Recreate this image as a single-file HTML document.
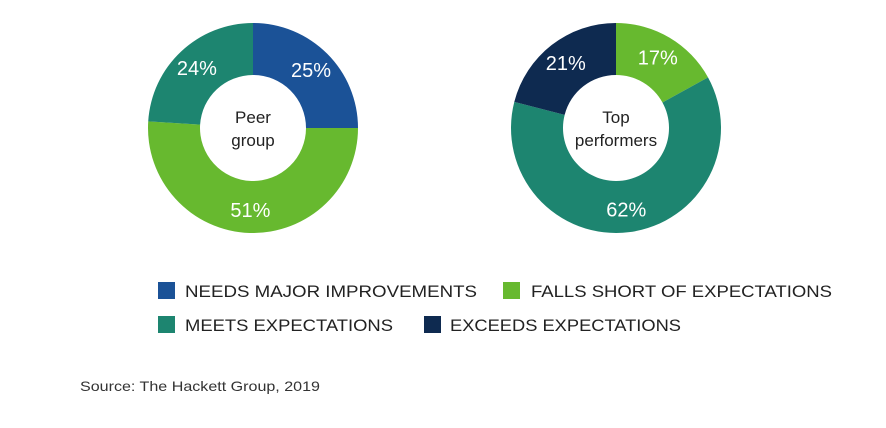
<!DOCTYPE html>
<html><head><meta charset="utf-8"><style>
html,body{margin:0;padding:0;background:#fff;}
svg{display:block;font-family:"Liberation Sans",sans-serif;}
</style></head><body>
<svg id="chart" width="886" height="428" viewBox="0 0 886 428">
<g id="donuts"></g>
<g>
 <rect x="158" y="282" width="17" height="17" fill="#1b5297"/>
 <text x="185" y="297" font-size="17" fill="#222" textLength="292" lengthAdjust="spacingAndGlyphs">NEEDS MAJOR IMPROVEMENTS</text>
 <rect x="503" y="282" width="17" height="17" fill="#67b92f"/>
 <text x="531" y="297" font-size="17" fill="#222" textLength="301" lengthAdjust="spacingAndGlyphs">FALLS SHORT OF EXPECTATIONS</text>
 <rect x="158" y="316" width="17" height="17" fill="#1d8570"/>
 <text x="185" y="331" font-size="17" fill="#222" textLength="208" lengthAdjust="spacingAndGlyphs">MEETS EXPECTATIONS</text>
 <rect x="424" y="316" width="17" height="17" fill="#0e2a50"/>
 <text x="450" y="331" font-size="17" fill="#222" textLength="231" lengthAdjust="spacingAndGlyphs">EXCEEDS EXPECTATIONS</text>
</g>
<text x="80" y="391" font-size="14" fill="#333" textLength="240" lengthAdjust="spacingAndGlyphs">Source: The Hackett Group, 2019</text>
</svg>
<script>
const peerValues = [25, 51, 24];
const peerColors = ["#1b5297", "#67b92f", "#1d8570"];
const topValues = [17, 62, 21];
const topColors = ["#67b92f", "#1d8570", "#0e2a50"];
const NS = "http://www.w3.org/2000/svg";
const g = document.getElementById('donuts');
function pt(cx, cy, r, frac) {
  const a = frac * 2 * Math.PI - Math.PI / 2;
  return [cx + r * Math.cos(a), cy + r * Math.sin(a)];
}
function donut(cx, cy, values, colors, name, centerLines, labelR) {
  const R = 105, r = 53;
  const total = values.reduce((a, b) => a + b, 0);
  let acc = 0;
  values.forEach((v, i) => {
    const f0 = acc / total, f1 = (acc + v) / total;
    acc += v;
    const large = (f1 - f0) > 0.5 ? 1 : 0;
    const [x0, y0] = pt(cx, cy, R, f0), [x1, y1] = pt(cx, cy, R, f1);
    const [x2, y2] = pt(cx, cy, r, f1), [x3, y3] = pt(cx, cy, r, f0);
    const p = document.createElementNS(NS, 'path');
    p.setAttribute('d', `M${x0},${y0} A${R},${R} 0 ${large} 1 ${x1},${y1} L${x2},${y2} A${r},${r} 0 ${large} 0 ${x3},${y3} Z`);
    p.setAttribute('fill', colors[i]);
    
    
    g.appendChild(p);
    const [lx, ly] = pt(cx, cy, labelR, (f0 + f1) / 2);
    const t = document.createElementNS(NS, 'text');
    t.setAttribute('x', lx); t.setAttribute('y', ly + 7);
    t.setAttribute('text-anchor', 'middle');
    t.setAttribute('font-size', '20');
    t.setAttribute('fill', '#fff');
    t.textContent = v + '%';
    
    
    g.appendChild(t);
  });
  centerLines.forEach((s, k) => {
    const t = document.createElementNS(NS, 'text');
    t.setAttribute('x', cx); t.setAttribute('y', cy - 5 + k * 23);
    t.setAttribute('text-anchor', 'middle');
    t.setAttribute('font-size', '17');
    t.setAttribute('fill', '#222');
    t.textContent = s;
    
    
    g.appendChild(t);
  });
}
donut(253, 128, peerValues, peerColors, 'peer-group', ['Peer', 'group'], 82);
donut(616, 128, topValues, topColors, 'top-performers', ['Top', 'performers'], 82);
</script>
</body></html>
